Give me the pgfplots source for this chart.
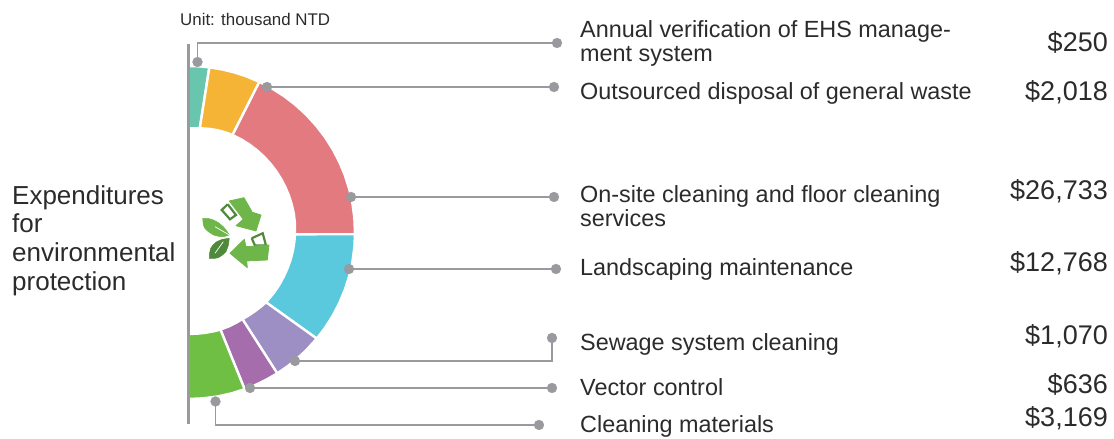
\documentclass[border=0pt]{standalone}
\usepackage{pgfplots}
\usepgfplotslibrary{polar}
\pgfplotsset{compat=1.18}
\usepackage{fontspec}
\setmainfont{Liberation Sans}
\definecolor{cTeal}{HTML}{68C6AE}
\definecolor{cOrange}{HTML}{F6B436}
\definecolor{cRed}{HTML}{E27A80}
\definecolor{cBlue}{HTML}{5AC8DD}
\definecolor{cPurple}{HTML}{9D8FC4}
\definecolor{cViolet}{HTML}{A66DAD}
\definecolor{cGreen}{HTML}{6FBF44}
\definecolor{cGrey}{HTML}{9A9A9E}
\definecolor{cTxt}{HTML}{2B2B2B}
\definecolor{iLight}{HTML}{6FB64A}
\definecolor{iDark}{HTML}{4F8A3C}
\newcommand{\lab}[2]{\node[anchor=base west,inner sep=0pt,font=\fontsize{23.4}{26}\selectfont,text=cTxt] at (axis cs:391.5,#1) {#2};}
\newcommand{\val}[2]{\node[anchor=base east,inner sep=0pt,font=\fontsize{27}{30}\selectfont,text=cTxt] at (axis cs:919.5,#1) {#2};}
\newcommand{\lft}[2]{\node[anchor=base west,inner sep=0pt,font=\fontsize{26}{30}\selectfont,text=cTxt] at (axis cs:-176.5,#1) {#2};}
\begin{document}
\begin{tikzpicture}
\begin{axis}[
  hide axis, scale only axis, width=1114pt, height=439pt,
  xmin=-188.5, xmax=925.5, ymin=-206.5, ymax=232.5,
  clip=false,
]
% rings in polar data coordinates (angle, radius)
\pgfplotsset{ring/.style={data cs=polar,draw=white,line width=2.4pt,line join=miter}}
\addplot[ring,fill=cTeal] coordinates {(90,166.5)(86,166.5)(82.8,166.5)(83.8,105)(86,104.5)(90,104)(90,166.5)};
\addplot[ring,fill=cOrange] coordinates {(82.8,166.5)(78,166.5)(74,166.5)(70,166.5)(64.8,166.5)(65.7,107)(70,106.7)(74,106.3)(78,105.8)(83.8,105)(82.8,166.5)};
\addplot[ring,fill=cRed] coordinates {(64.8,166.5)(60,166.5)(55,166.5)(50,166.5)(45,166.5)(40,166.5)(35,166.5)(30,166.5)(25,166.5)(20,166.5)(15,166.5)(10,166.5)(5,166.5)(-0.6,166.5)(-1,106.5)(5,106.8)(10,107)(15,107)(20,107)(25,107)(30,107)(35,107)(40,107)(45,107)(50,107)(55,107)(60,107)(65.7,107)(64.8,166.5)};
\addplot[ring,fill=cBlue] coordinates {(-0.6,166.5)(-5,166.5)(-10,166.5)(-15,166.5)(-20,166.5)(-25,166.5)(-30,166.5)(-35,166.5)(-39.6,166.5)(-42,104.3)(-35,104.6)(-30,104.8)(-25,105)(-20,105.3)(-15,105.7)(-10,106)(-5,106.3)(-1,106.5)(-0.6,166.5)};
\addplot[ring,fill=cPurple] coordinates {(-39.6,166.5)(-45,166.5)(-50,166.5)(-54,166.5)(-57.8,166.5)(-58.1,102)(-54,102.5)(-50,103)(-45,103.8)(-42,104.3)(-39.6,166.5)};
\addplot[ring,fill=cViolet] coordinates {(-57.8,166.5)(-62,166.5)(-66,166.5)(-70.3,166.5)(-71.8,102.3)(-66,102.2)(-62,102.1)(-58.1,102)(-57.8,166.5)};
\addplot[ring,fill=cGreen] coordinates {(-70.3,166.5)(-75,166.5)(-80,166.5)(-85,166.5)(-90,166.5)(-90,101.5)(-85,101.6)(-80,101.8)(-75,102)(-71.8,102.3)(-70.3,166.5)};
% axis bar
\addplot[cGrey,line width=2.6pt] coordinates {(0,188.5)(0,-191.5)};
% leader lines: (x px - 188.5, 232.5 - y px)
\pgfplotsset{lead/.style={cGrey,line width=1.4pt},dot/.style={only marks,mark=*,mark size=5pt,color=cGrey,mark options={draw=cGrey,fill=cGrey,line width=0.2pt}}}
\addplot[lead] coordinates {(9,170.5)(9,189.5)(368.5,189.5)};
\addplot[dot] coordinates {(9,170.5)(368.5,189.5)};
\addplot[lead] coordinates {(78.5,145.5)(365.5,145.5)};
\addplot[dot] coordinates {(78.5,145.5)(365.5,145.5)};
\addplot[lead] coordinates {(162.5,35.5)(365.5,35.5)};
\addplot[dot] coordinates {(162.5,35.5)(365.5,35.5)};
\addplot[lead] coordinates {(160.5,-36.5)(367.5,-36.5)};
\addplot[dot] coordinates {(160.5,-36.5)(367.5,-36.5)};
\addplot[lead] coordinates {(106.5,-128.5)(363.5,-128.5)(363.5,-105.5)};
\addplot[dot] coordinates {(106.5,-128.5)(363.5,-105.5)};
\addplot[lead] coordinates {(61.5,-155.5)(363.5,-155.5)};
\addplot[dot] coordinates {(61.5,-155.5)(363.5,-155.5)};
\addplot[lead] coordinates {(27,-169)(27,-192.5)(350.5,-192.5)};
\addplot[dot] coordinates {(27,-169)(350.5,-192.5)};
% icon
\addplot[draw=iDark,fill=white,line width=2.2pt] coordinates {(39.2,28.2)(33.2,22.5)(41.5,13.2)(47.5,17.5)(39.2,28.2)};
\addplot[fill=iLight,draw=iLight,line width=0.8pt,line join=round] coordinates {(40.8,31.5)(55.5,34.8)(63.8,20.2)(72.5,17.5)(67.5,1.5)(47.5,6.8)(54.8,13.2)(40.8,31.5)};
\addplot[draw=iDark,fill=white,line width=2.2pt] coordinates {(63.2,-5.8)(74.2,-0.8)(77.5,-13)(66.5,-13)(63.2,-5.8)};
\addplot[fill=iLight,draw=iLight,line width=0.8pt,line join=round] coordinates {(41.5,-20.8)(55.8,-6.8)(57.5,-14.2)(80.5,-12.5)(78.8,-27.5)(58.2,-28.5)(58.8,-35.2)(41.5,-20.8)};
\addplot[fill=iLight,draw=iLight,line width=0.5pt] coordinates {(14.2,14.2)(20,14)(24.8,12.5)(30,9.8)(34.8,5.8)(38,2)(40.8,-2.5)(36,-4)(31.5,-4.2)(25,-2.5)(19.8,.8)(16.5,4)(14.8,7.5)(14.2,14.2)};
\addplot[fill=iDark,draw=iDark,line width=0.5pt] coordinates {(40.8,-5.8)(34,-6.8)(28.2,-9.2)(24.5,-12.5)(22.2,-15.8)(21,-21)(20.8,-25.8)(25.5,-26)(29.8,-25.2)(34,-22.5)(37.5,-19.2)(39.8,-13)(40.8,-5.8)};
\addplot[white,line width=0.7pt] coordinates {(26.5,5.8)(40.8,-2.5)};
\addplot[white,line width=0.7pt] coordinates {(26.5,-20.8)(34.8,-9.2)};
% text
\node[anchor=base west,inner sep=0pt,font=\fontsize{16.9}{20}\selectfont,text=cTxt] at (axis cs:-8.5,206.5) {Unit: thousand NTD};
\lab{194.8}{Annual verification of EHS manage-}
\lab{170.8}{ment system}
\lab{133.2}{Outsourced disposal of general waste}
\lab{29.5}{On-site cleaning and floor cleaning}
\lab{5.8}{services}
\lab{-43.5}{Landscaping maintenance}
\lab{-118.5}{Sewage system cleaning}
\lab{-163.5}{Vector control}
\lab{-200.5}{Cleaning materials}
\val{180.8}{\$250}
\val{131.8}{\$2,018}
\val{32.5}{\$26,733}
\val{-39.2}{\$12,768}
\val{-112.5}{\$1,070}
\val{-160.8}{\$636}
\val{-194}{\$3,169}
\lft{28}{Expenditures}
\lft{0}{for}
\lft{-29}{environmental}
\lft{-58}{protection}
\end{axis}
\useasboundingbox (current axis.south west) rectangle (current axis.north east);
\end{tikzpicture}
\end{document}
